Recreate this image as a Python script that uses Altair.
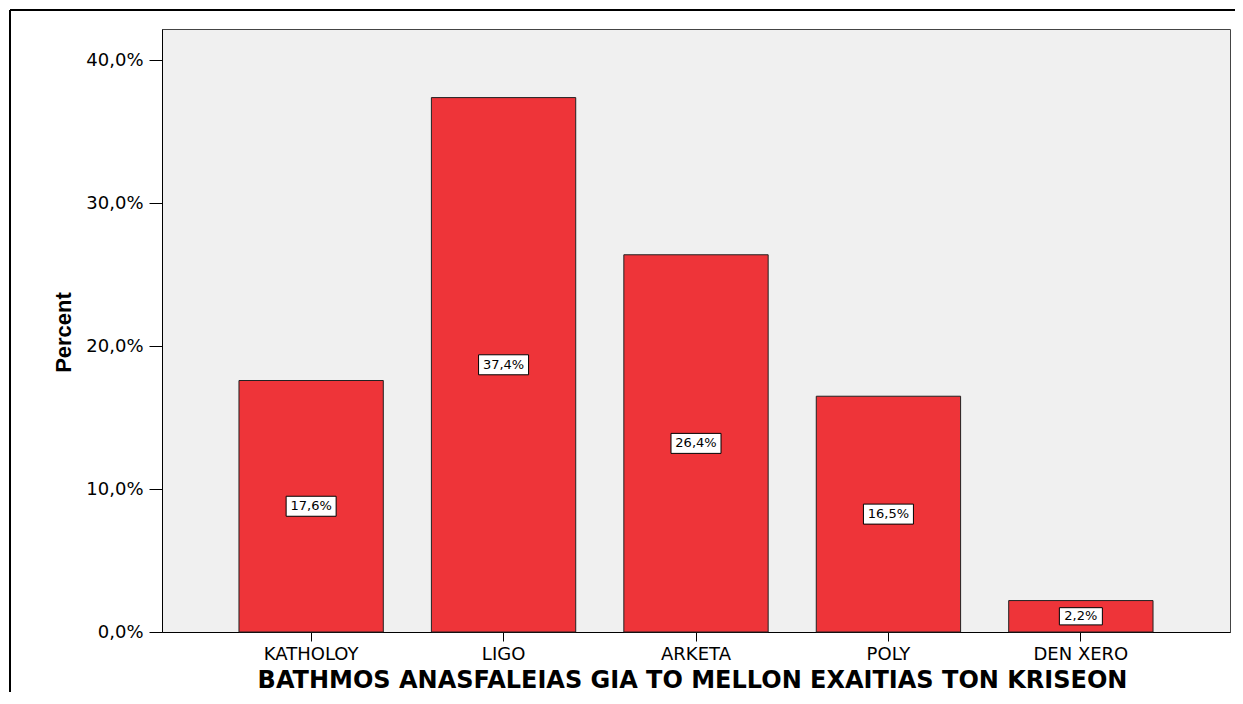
import altair as alt
import pandas as pd

categories = ["KATHOLOY", "LIGO", "ARKETA", "POLY", "DEN XERO"]
percent = [17.6, 37.4, 26.4, 16.5, 2.2]
y_ticks = [0, 10, 20, 30, 40]

df = pd.DataFrame({"cat": categories, "pct": percent})

LABEL_EXPR = "replace(format(datum.value, '.1f'), '.', ',') + '%'"

x_enc = alt.X(
    "cat:N",
    sort=None,
    scale=alt.Scale(paddingInner=0.25, paddingOuter=0.4),
    axis=alt.Axis(
        title="BATHMOS ANASFALEIAS GIA TO MELLON EXAITIAS TON KRISEON",
        titleFont="DejaVu Sans",
        titleFontWeight="bold",
        titleFontSize=24,
        titleColor="black",
        titleX=530,
        titleY=55,
        titleBaseline="alphabetic",
        labelFont="DejaVu Sans",
        labelFontSize=18,
        labelColor="black",
        labelAngle=0,
        labelBaseline="alphabetic",
        labelPadding=18,
        tickSize=9,
        tickColor="black",
        domainColor="black",
        grid=False,
    ),
)

base = alt.Chart(df).transform_calculate(
    lbl="replace(format(datum.pct, '.1f'), '.', ',') + '%'",
    mid="datum.pct / 2",
)

bars = base.mark_bar(color="#EE3439", stroke="#222222", strokeWidth=1).encode(
    x=x_enc,
    y=alt.Y(
        "pct:Q",
        scale=alt.Scale(domain=[0, 42.2], nice=False),
        axis=alt.Axis(
            title="Percent",
            titleFont="Liberation Sans",
            titleFontWeight="bold",
            titleFontSize=22,
            titleColor="black",
            titleAngle=-90,
            titleX=-99,
            titleY=303,
            titleAlign="center",
            titleBaseline="middle",
            values=y_ticks,
            labelExpr=LABEL_EXPR,
            labelFont="DejaVu Sans",
            labelFontSize=18,
            labelColor="black",
            labelPadding=6,
            tickSize=13,
            tickColor="black",
            domainColor="black",
            grid=False,
        ),
    ),
)

boxes = base.mark_point(
    shape="M-1,-0.4L1,-0.4L1,0.4L-1,0.4Z",
    filled=True,
    fill="white",
    stroke="black",
    strokeWidth=1,
    opacity=1,
).encode(
    x=alt.X("cat:N", sort=None),
    y=alt.Y("mid:Q"),
    size=alt.condition("length(datum.lbl) < 5", alt.value(43 * 43), alt.value(50 * 50)),
)

texts = base.mark_text(
    font="DejaVu Sans", fontSize=13, color="black", baseline="middle", align="center"
).encode(
    x=alt.X("cat:N", sort=None),
    y=alt.Y("mid:Q"),
    text="lbl:N",
)

frame_df = pd.DataFrame({"k": [0]})
frame_top = alt.Chart(frame_df).mark_rule(color="black", strokeWidth=2).encode(
    x=alt.value(-152), x2=alt.value(1080), y=alt.value(-19)
)
frame_left = alt.Chart(frame_df).mark_rule(color="black", strokeWidth=2).encode(
    x=alt.value(-152), y=alt.value(-19), y2=alt.value(700)
)

chart = (
    alt.layer(bars, boxes, texts, frame_top, frame_left)
    .properties(
        width=1068,
        height=603,
        autosize=alt.AutoSizeParams(type="none"),
        padding={"left": 154, "top": 21, "right": 5, "bottom": 60},
        background="white",
    )
    .configure_view(fill="#F0F0F0", stroke="#444444", strokeWidth=1)
)

chart.save("out.html", embed_options={"renderer": "svg", "actions": False})
